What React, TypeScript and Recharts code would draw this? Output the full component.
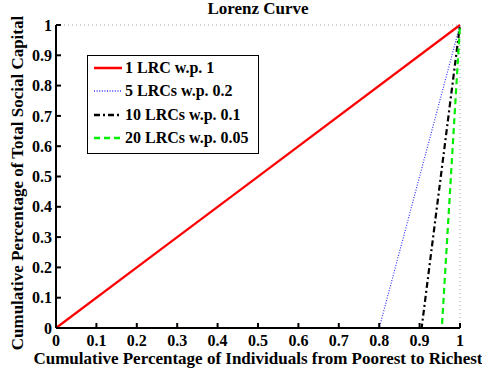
import React from 'react';
import {
  CartesianGrid,
  Line,
  LineChart,
  XAxis,
  YAxis,
} from 'recharts';

// tick labels
const xTicks = [0, 0.1, 0.2, 0.3, 0.4, 0.5, 0.6, 0.7, 0.8, 0.9, 1];
const yTicks = [0, 0.1, 0.2, 0.3, 0.4, 0.5, 0.6, 0.7, 0.8, 0.9, 1];

// series (x = share of individuals, y = share of social capital)
const oneX = [0, 1];
const oneY = [0, 1];
const fiveX = [0, 0.8, 1];
const fiveY = [0, 0, 1];
const tenX = [0, 0.905, 1];
const tenY = [0, 0, 1];
const twentyX = [0, 0.955, 1];
const twentyY = [0, 0, 1];

const series = [
  { name: '1 LRC w.p. 1', xs: oneX, ys: oneY, color: '#ff0000', dash: undefined, width: 2.2 },
  { name: '5 LRCs w.p. 0.2', xs: fiveX, ys: fiveY, color: '#3333ff', dash: '1 1.6', width: 1.2 },
  { name: '10 LRCs w.p. 0.1', xs: tenX, ys: tenY, color: '#000000', dash: '6 3 2 3', width: 2.2 },
  { name: '20 LRCs w.p. 0.05', xs: twentyX, ys: twentyY, color: '#00ee00', dash: '6 4', width: 2.2 },
];

const FONT = 'Liberation Serif';

function toRows(xs: number[], ys: number[]) {
  return xs.map((x, i) => ({ x, y: ys[i] }));
}

function LegendBox() {
  return (
    <div
      style={{
        position: 'absolute',
        left: 87,
        top: 55,
        border: '1.5px solid #000',
        background: '#fff',
        width: 172,
        height: 99,
        boxSizing: 'border-box',
        padding: '0 0 0 5px',
        fontFamily: FONT,
        fontWeight: 'bold',
        fontSize: 16,
      }}
    >
      {series.map((s) => (
        <div key={s.name} style={{ display: 'flex', alignItems: 'center', height: 23.5 }}>
          <svg width={30} height={10} style={{ marginRight: 2 }}>
            <line
              x1={1}
              y1={5}
              x2={29}
              y2={5}
              stroke={s.color}
              strokeWidth={s.width + 0.3}
              strokeDasharray={s.dash}
            />
          </svg>
          <span>{s.name}</span>
        </div>
      ))}
    </div>
  );
}

export default function App() {
  const tickStyle = { fontFamily: FONT, fontWeight: 'bold' as const, fontSize: 16, fill: '#000' };
  return (
    <div style={{ position: 'absolute', left: 0, top: 0, width: 482, height: 373, background: '#fff' }}>
      <div
        style={{
          position: 'absolute',
          left: 56,
          top: 0,
          width: 404,
          textAlign: 'center',
          fontFamily: FONT,
          fontWeight: 'bold',
          fontSize: 17,
          lineHeight: '17px',
        }}
      >
        Lorenz Curve
      </div>
      <div
        style={{
          position: 'absolute',
          left: 18,
          top: 183,
          transform: 'translate(-50%, -50%) rotate(-90deg)',
          whiteSpace: 'nowrap',
          fontFamily: FONT,
          fontWeight: 'bold',
          fontSize: 17,
        }}
      >
        Cumulative Percentage of Total Social Capital
      </div>
      <LineChart
        width={482}
        height={373}
        margin={{ top: 25, right: 22, bottom: 0, left: 10 }}
        style={{ position: 'absolute', left: 0, top: 0 }}
      >
        <CartesianGrid stroke="#aaaaaa" strokeDasharray="1 3" strokeWidth={1} />
        <XAxis
          xAxisId="b"
          dataKey="x"
          type="number"
          domain={[0, 1]}
          ticks={xTicks}
          interval={0}
          height={45}
          tickSize={-5}
          tickMargin={12}
          stroke="#000"
          strokeWidth={2}
          tick={tickStyle}
          tickFormatter={(v) => String(v)}
        />
        <XAxis
          xAxisId="t"
          orientation="top"
          dataKey="x"
          type="number"
          domain={[0, 1]}
          ticks={xTicks}
          height={0}
          tickSize={-5}
          stroke="#000"
          strokeWidth={2}
          tick={false}
        />
        <YAxis
          yAxisId="l"
          type="number"
          domain={[0, 1]}
          ticks={yTicks}
          interval={0}
          width={46}
          tickSize={-5}
          tickMargin={9}
          stroke="#000"
          strokeWidth={2}
          tick={tickStyle}
          tickFormatter={(v) => String(v)}
        />
        <YAxis
          yAxisId="r"
          orientation="right"
          type="number"
          domain={[0, 1]}
          ticks={yTicks}
          width={0}
          tickSize={-5}
          stroke="#000"
          strokeWidth={2}
          tick={false}
        />
        {series.map((s) => (
          <Line
            key={s.name}
            xAxisId="b"
            yAxisId="l"
            data={toRows(s.xs, s.ys)}
            dataKey="y"
            name={s.name}
            type="linear"
            stroke={s.color}
            strokeWidth={s.width}
            strokeDasharray={s.dash}
            dot={false}
            isAnimationActive={false}
          />
        ))}
      </LineChart>
      <div
        style={{
          position: 'absolute',
          left: 0,
          top: 350,
          width: 516,
          textAlign: 'center',
          whiteSpace: 'nowrap',
          fontFamily: FONT,
          fontWeight: 'bold',
          fontSize: 17,
          lineHeight: '17px',
        }}
      >
        Cumulative Percentage of Individuals from Poorest to Richest
      </div>
      <LegendBox />
    </div>
  );
}
